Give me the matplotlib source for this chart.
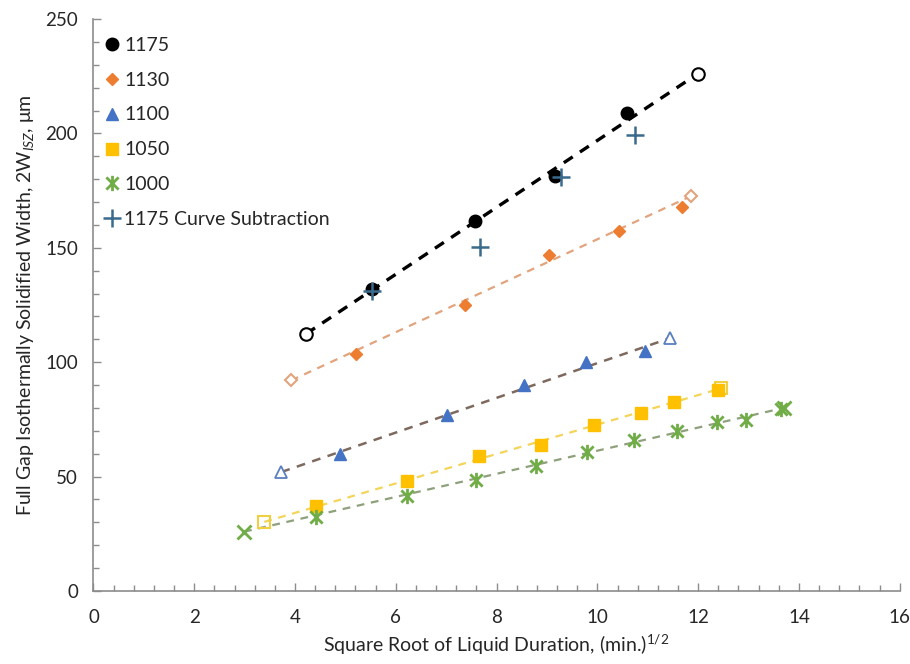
import matplotlib
matplotlib.use("Agg")
import matplotlib.pyplot as plt
from matplotlib.path import Path
from matplotlib.ticker import MultipleLocator

# ── data ─────────────────────────────────────────────────────────────────
x_1175 = [5.52, 7.58, 9.16, 10.58]
y_1175 = [132.0, 161.6, 181.5, 209.0]
x_1175_end = [4.22, 11.99]
y_1175_end = [112.4, 226.0]

x_sub = [5.53, 7.67, 9.28, 10.75]
y_sub = [131.0, 150.5, 181.0, 199.2]

x_1130 = [5.21, 7.38, 9.04, 10.43, 11.67]
y_1130 = [103.4, 125.2, 147.0, 157.5, 167.7]
x_1130_end = [3.92, 11.85]
y_1130_end = [92.0, 172.5]

x_1100 = [4.89, 7.01, 8.54, 9.78, 10.95]
y_1100 = [60.0, 76.8, 89.9, 100.0, 105.0]
x_1100_end = [3.73, 11.44]
y_1100_end = [52.0, 110.5]

x_1050 = [4.41, 6.22, 7.66, 8.88, 9.93, 10.87, 11.53, 12.39]
y_1050 = [37.2, 48.0, 59.0, 64.0, 72.4, 77.8, 82.6, 88.0]
x_1050_end = [3.39, 12.45]
y_1050_end = [30.2, 88.5]

x_1000 = [4.41, 6.22, 7.60, 8.78, 9.80, 10.73, 11.58, 12.37, 12.94, 13.65]
y_1000 = [32.4, 41.4, 48.4, 54.7, 60.8, 65.9, 69.8, 73.9, 74.6, 79.7]
x_1000_end = [2.99, 13.70]
y_1000_end = [25.9, 80.0]

# ── style ────────────────────────────────────────────────────────────────
FONT = ["Lato", "DejaVu Sans"]
plt.rcParams["font.family"] = FONT
plt.rcParams["mathtext.fontset"] = "custom"
plt.rcParams["mathtext.rm"] = "Lato"
plt.rcParams["mathtext.it"] = "Lato:italic"

C_1130 = "#ED7D31"
C_1100 = "#4472C4"
C_1050 = "#FFC000"
C_1000 = "#70AD47"
C_SUB = "#3A6B8C"
TEXT = "#262626"
AXIS = "#8C8C8C"

# Excel-style asterisk: X plus vertical bar
ASTERISK = Path(
    [(-1, -1), (1, 1), (-1, 1), (1, -1), (0, -1.25), (0, 1.25)],
    [Path.MOVETO, Path.LINETO, Path.MOVETO, Path.LINETO, Path.MOVETO, Path.LINETO],
)

fig = plt.figure(figsize=(9.1, 6.64), dpi=100)
ax = fig.add_axes([0.1027, 0.110, 0.886, 0.8614])

# trendlines (span from first to last predicted point)
ax.plot(x_1175_end, y_1175_end, color="black", lw=2.4, dashes=(3.2, 2.6), zorder=2)
ax.plot(x_1130_end, y_1130_end, color="#E2A47C", lw=1.6, dashes=(3.5, 3), zorder=2)
ax.plot(x_1100_end, y_1100_end, color="#7E695F", lw=1.8, dashes=(3.5, 3), zorder=2)
ax.plot(x_1050_end, y_1050_end, color="#F4D55A", lw=1.6, dashes=(3.5, 3), zorder=2)
ax.plot(x_1000_end, y_1000_end, color="#8FA07C", lw=1.6, dashes=(3.5, 3), zorder=2)

# open end markers
ax.plot(x_1175_end, y_1175_end, ls="none", marker="o", ms=9, mfc="white", mec="black", mew=1.5, zorder=3)
ax.plot(x_1130_end, y_1130_end, ls="none", marker="D", ms=6.5, mfc="white", mec="#E2A47C", mew=1.5, zorder=3)
ax.plot(x_1100_end, y_1100_end, ls="none", marker="^", ms=9, mfc="white", mec="#5A7FC0", mew=1.3, zorder=3)
ax.plot(x_1050_end, y_1050_end, ls="none", marker="s", ms=9, mfc="none", mec="#F0CF40", mew=1.5, zorder=3)
ax.plot(x_1000_end, y_1000_end, ls="none", marker="x", ms=10, mec=C_1000, mew=2.0, zorder=3)

# data points
h1 = ax.plot(x_1175, y_1175, ls="none", marker="o", ms=9, color="black", label="1175", zorder=4)[0]
h2 = ax.plot(x_1130, y_1130, ls="none", marker="D", ms=6.5, color=C_1130, label="1130", zorder=4)[0]
h3 = ax.plot(x_1100, y_1100, ls="none", marker="^", ms=9, color=C_1100, label="1100", zorder=4)[0]
h4 = ax.plot(x_1050, y_1050, ls="none", marker="s", ms=9, color=C_1050, label="1050", zorder=4)[0]
h5 = ax.plot(x_1000, y_1000, ls="none", marker=ASTERISK, ms=11, mfc="none", mec=C_1000, mew=2.0,
             label="1000", zorder=4)[0]
h6 = ax.plot(x_sub, y_sub, ls="none", marker="+", ms=13, mec=C_SUB, mew=1.8,
             label="1175 Curve Subtraction", zorder=5)[0]

ax.legend(handles=[h1, h2, h3, h4, h5, h6], loc="upper left", bbox_to_anchor=(-0.01, 1.003),
          frameon=False, fontsize=14, handlelength=0.7, handletextpad=0.3,
          labelspacing=0.92, borderaxespad=0.6, labelcolor=TEXT)

# axes
ax.set_xlim(0, 16)
ax.set_ylim(0, 250)
ax.xaxis.set_major_locator(MultipleLocator(2))
ax.xaxis.set_minor_locator(MultipleLocator(0.4))
ax.yaxis.set_major_locator(MultipleLocator(50))
ax.yaxis.set_minor_locator(MultipleLocator(10))
ax.tick_params(which="both", direction="in", color=AXIS, labelcolor=TEXT, labelsize=13.5)
ax.tick_params(which="major", length=6, width=1)
ax.tick_params(which="minor", length=4, width=1)
ax.tick_params(axis="x", pad=13)
ax.tick_params(axis="y", pad=11)
for side in ("top", "right"):
    ax.spines[side].set_visible(False)
for side in ("left", "bottom"):
    ax.spines[side].set_color(AXIS)
    ax.spines[side].set_linewidth(1.2)

ax.set_xlabel("Square Root of Liquid Duration, (min.)$^{1/2}$", fontsize=14, color=TEXT, labelpad=5)
ax.set_ylabel(r"Full Gap Isothermally Solidified Width, 2W$_{\mathit{ISZ}}$, μm", fontsize=14,
              color=TEXT, labelpad=7)

fig.savefig("out.png", dpi=100, facecolor="white")
